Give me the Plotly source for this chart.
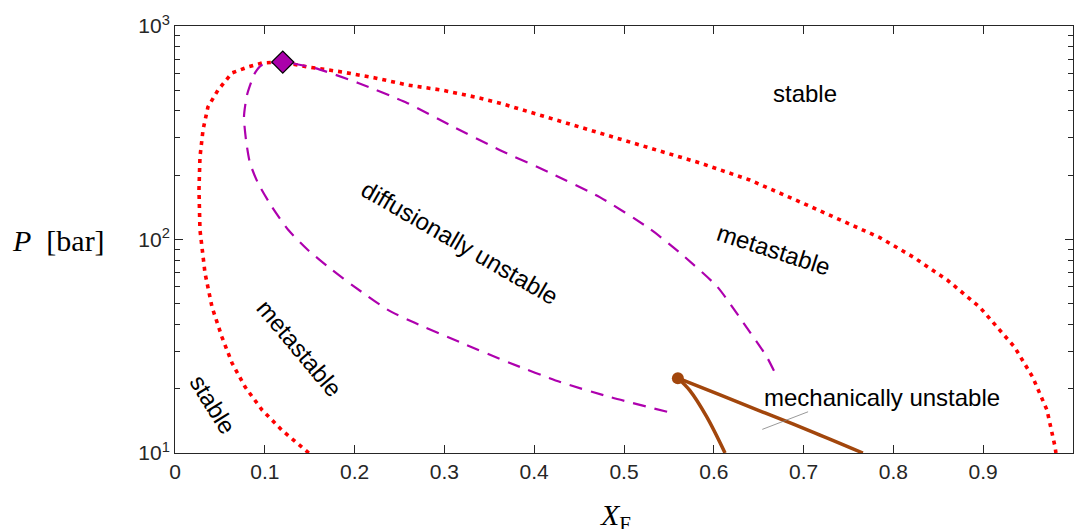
import math
import plotly.graph_objects as go

# ---- data ----
# red dotted envelope (left branch bottom -> critical point -> right branch bottom)
red_x = [0.149, 0.119, 0.097, 0.078, 0.0635, 0.0523, 0.0412, 0.0334, 0.0278, 0.0267,
         0.0278, 0.0312, 0.0367, 0.0479, 0.0635, 0.0813, 0.0969, 0.119,
         0.148, 0.186, 0.223, 0.259, 0.297, 0.334, 0.362, 0.418, 0.473, 0.529,
         0.585, 0.640, 0.696, 0.729, 0.785, 0.822, 0.860, 0.896, 0.935, 0.955,
         0.971, 0.980, 0.981]
red_p = [10.0, 12.8, 15.9, 20.4, 26.4, 34.9, 48.3, 69.7, 111, 171,
         243, 326, 418, 501, 603, 643, 671, 678,
         643, 609, 571, 529, 501, 465, 435, 371, 315, 268,
         228, 190, 150, 130, 102, 82.8, 64.6, 48.3, 31.3, 22.7,
         15.9, 10.7, 10.0]

# purple dashed spinodal (left bottom end -> critical point -> right end)
purple_x = [0.548, 0.484, 0.429, 0.373, 0.317, 0.267, 0.237, 0.200, 0.175, 0.148,
            0.126, 0.108, 0.0924, 0.0835, 0.0791, 0.0768, 0.0802, 0.0891, 0.0969, 0.119,
            0.156, 0.204, 0.259, 0.306, 0.362, 0.418, 0.473, 0.529, 0.566, 0.604,
            0.633, 0.659, 0.671]
purple_p = [15.6, 18.3, 21.5, 26.4, 33.1, 40.7, 46.8, 60.0, 72.0, 89.3,
            111, 142, 184, 228, 292, 375, 475, 603, 657, 678,
            635, 541, 435, 344, 262, 205, 158, 112, 84.0, 60.0,
            40.7, 28.2, 22.4]

# brown mechanical-instability branches
brown_left_x = [0.560, 0.573, 0.592, 0.6125]
brown_left_p = [22.4, 19.7, 14.8, 10.0]
brown_right_x = [0.560, 0.607, 0.657, 0.713, 0.766]
brown_right_p = [22.4, 18.7, 15.4, 12.4, 10.0]

critical_x = [0.120]
critical_p = [678]
cusp_x = [0.560]
cusp_p = [22.4]

pointer_x = [0.654, 0.705]
pointer_p = [12.9, 15.6]

x_ticks = [0, 0.1, 0.2, 0.3, 0.4, 0.5, 0.6, 0.7, 0.8, 0.9, 1.0]
x_ticktext = ["0", "0.1", "0.2", "0.3", "0.4", "0.5", "0.6", "0.7", "0.8", "0.9", "1"]
y_ticks = [10, 100, 1000]
y_ticktext = ["10<sup>1</sup>", "10<sup>2</sup>", "10<sup>3</sup>"]
y_minor = [m * d for d in (1, 10, 100) for m in range(2, 10)]

label_text = ["stable", "metastable", "diffusionally unstable", "metastable", "stable",
              "mechanically unstable"]
label_x = [0.702, 0.666, 0.317, 0.139, 0.0423, 0.787]
label_p = [485, 89.4, 97.3, 31.0, 16.9, 18.1]
label_angle = [0, 18, 30, 50, 58, 0]

# ---- figure ----
AX = "#262626"
fig = go.Figure()
fig.add_trace(go.Scatter(x=red_x, y=red_p, mode="lines",
                         line=dict(color="#FF0000", width=3.6, dash="4px,5px"),
                         hoverinfo="skip"))
fig.add_trace(go.Scatter(x=purple_x, y=purple_p, mode="lines",
                         line=dict(color="#AE00AE", width=2.2, dash="13px,9px", shape="spline", smoothing=0.6),
                         hoverinfo="skip"))
fig.add_trace(go.Scatter(x=brown_left_x, y=brown_left_p, mode="lines",
                         line=dict(color="#A2460C", width=3.5, shape="spline"), hoverinfo="skip"))
fig.add_trace(go.Scatter(x=brown_right_x, y=brown_right_p, mode="lines",
                         line=dict(color="#A2460C", width=3.5, shape="spline"), hoverinfo="skip"))
fig.add_trace(go.Scatter(x=cusp_x, y=cusp_p, mode="markers",
                         marker=dict(color="#A2460C", size=12, symbol="circle"), hoverinfo="skip"))
fig.add_trace(go.Scatter(x=pointer_x, y=pointer_p, mode="lines",
                         line=dict(color="#7F7F7F", width=0.8), hoverinfo="skip"))
fig.add_trace(go.Scatter(x=critical_x, y=critical_p, mode="markers",
                         marker=dict(color="#AA00AA", size=17, symbol="diamond",
                                     line=dict(color="black", width=1.2)),
                         hoverinfo="skip"))

for t, x, p, a in zip(label_text, label_x, label_p, label_angle):
    fig.add_annotation(x=x, y=math.log10(p), xref="x", yref="y", text=t, showarrow=False,
                       textangle=a, font=dict(family="Liberation Sans", size=24, color="black"))

fig.add_annotation(x=(58 - 175) / 898, y=(453 - 240) / 427, xref="paper", yref="paper",
                   text="<i>P</i>  [bar]", showarrow=False, xanchor="center", yanchor="middle",
                   font=dict(family="Liberation Serif", size=30, color="black"))
fig.add_annotation(x=(615 - 175) / 898, y=(453 - 496) / 427, xref="paper", yref="paper",
                   text="<i>X</i><sub>F</sub>", showarrow=False, xanchor="center", yanchor="top",
                   font=dict(family="Liberation Serif", size=30, color="black"))

fig.update_layout(
    width=1074, height=529, autosize=False,
    margin=dict(l=175, r=1, t=26, b=76),
    paper_bgcolor="white", plot_bgcolor="white",
    showlegend=False,
    font=dict(family="Liberation Sans", size=21, color=AX),
)

fig.update_xaxes(range=[0, 1], tickvals=x_ticks, ticktext=x_ticktext, ticks="inside", ticklen=8,
                 tickwidth=1, tickcolor=AX, showline=True, linecolor=AX, linewidth=1, mirror="ticks",
                 showgrid=False, zeroline=False, tickfont=dict(size=21, color=AX))
fig.update_yaxes(type="log", range=[1, 3], tickvals=y_ticks, ticktext=y_ticktext, ticks="inside",
                 ticklen=8, tickwidth=1, tickcolor=AX, showline=True, linecolor=AX, linewidth=1,
                 mirror="ticks", showgrid=False, zeroline=False, tickfont=dict(size=21, color=AX),
                 minor=dict(tickvals=y_minor, ticks="inside", ticklen=5, tickcolor=AX, tickwidth=1))

fig.write_html("out.html")
